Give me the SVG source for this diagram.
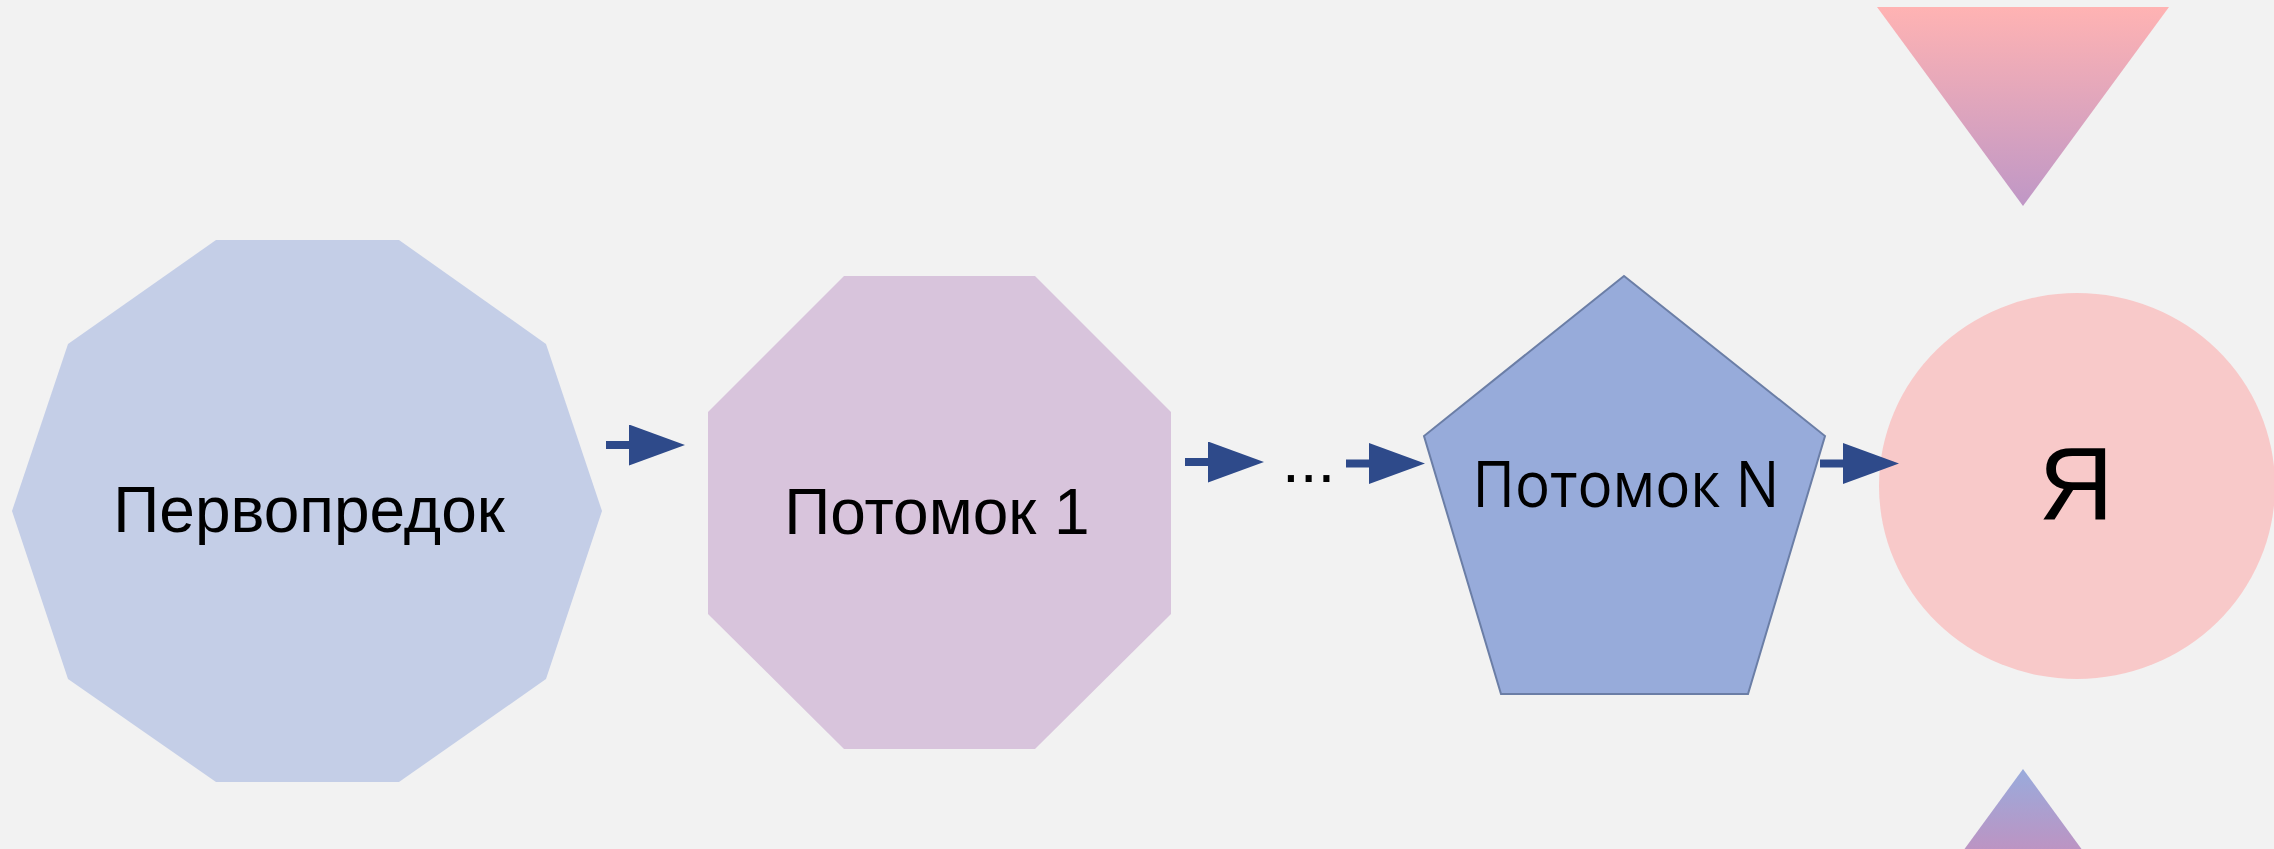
<svg xmlns="http://www.w3.org/2000/svg" width="2274" height="849" viewBox="0 0 2274 849">
<defs>
<style>
.lbl{font-family:"Liberation Sans",Arial,sans-serif;font-size:64px;fill:#000;text-anchor:middle}
.lblo{font-family:"Open Sans","Noto Sans",sans-serif;font-size:64px;fill:#000;text-anchor:middle}
.conn{stroke:#2e4a8a;stroke-width:8;fill:none;marker-end:url(#ah)}
</style>
<marker id="ah" markerUnits="userSpaceOnUse" markerWidth="56" markerHeight="41" refX="0" refY="20.5" orient="auto">
<path d="M0,0 L56,20.5 L0,41 Z" fill="#2e4a8a"/>
</marker>
<linearGradient id="gTop" gradientUnits="userSpaceOnUse" x1="0" y1="7" x2="0" y2="206">
<stop offset="0" stop-color="#ffb3b3"/>
<stop offset="1" stop-color="#bf97c6"/>
</linearGradient>
<linearGradient id="gBot" gradientUnits="userSpaceOnUse" x1="0" y1="769" x2="0" y2="849">
<stop offset="0" stop-color="#99abdc"/>
<stop offset="1" stop-color="#bc94c3"/>
</linearGradient>
</defs>
<rect width="2274" height="849" fill="#f2f2f2"/>
<g id="node-pervopredok">
<polygon points="216,240 399,240 546,344 602,511 546,679 399,782 216,782 68,679 12,511 68,344" fill="#c4cee7"/>
<text class="lbl" x="309" y="532">Первопредок</text>
</g>
<g id="node-potomok1">
<polygon points="844,276 1035,276 1171,412 1171,614 1035,749 844,749 708,614 708,412" fill="#d8c4dc"/>
<text class="lbl" x="937" y="534">Потомок 1</text>
</g>
<g id="node-dots">
<text x="1282" y="482" style="font-family:'Liberation Sans',Arial,sans-serif;font-size:64px;fill:#000">...</text>
</g>
<g id="node-potomokN">
<polygon points="1624,276 1825,436 1748,694 1501,694 1424,436" fill="#97abda" stroke="#6b7ea6" stroke-width="2"/>
<text class="lblo" x="1626" y="507" textLength="307" lengthAdjust="spacingAndGlyphs">Потомок N</text>
</g>
<g id="node-ya">
<ellipse cx="2077" cy="486" rx="198" ry="193" fill="#f8c9c9"/>
<text class="lbl" x="2076" y="520" style="font-size:104px">Я</text>
</g>
<g id="tri-top">
<polygon points="1877,7 2169,7 2023,206" fill="url(#gTop)"/>
</g>
<g id="tri-bottom">
<polygon points="2023,769 1964.5,849 2081.5,849" fill="url(#gBot)"/>
</g>
<g id="connectors">
<line class="conn" x1="606" y1="445" x2="629" y2="445"/>
<line class="conn" x1="1185" y1="462" x2="1208" y2="462"/>
<line class="conn" x1="1346" y1="463.5" x2="1369" y2="463.5"/>
<line class="conn" x1="1820" y1="463.5" x2="1843" y2="463.5"/>
</g>
</svg>
